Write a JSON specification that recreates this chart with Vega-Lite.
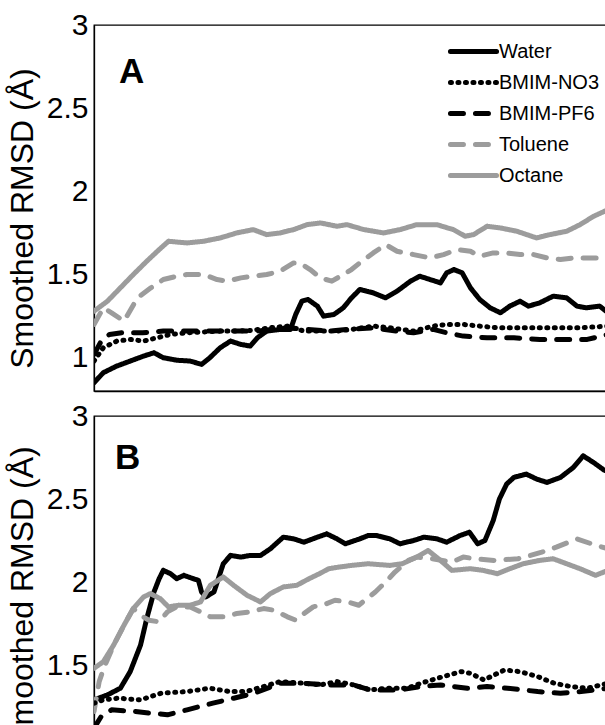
{
  "$schema": "https://vega.github.io/schema/vega-lite/v6.json",
  "background": "white",
  "padding": {"left": 5, "top": 9, "right": 0, "bottom": 0},
  "spacing": 7,
  "config": {
    "view": {"stroke": "black", "strokeWidth": 1.3},
    "font": "Liberation Sans"
  },
  "datasets": {
    "d": [
      {"p":"A","s":"Water","x":0.3,"y":0.85},{"p":"A","s":"Water","x":1.2,"y":0.91},{"p":"A","s":"Water","x":2.5,"y":0.95},{"p":"A","s":"Water","x":3.8,"y":0.98},{"p":"A","s":"Water","x":5.1,"y":1.01},{"p":"A","s":"Water","x":6.1,"y":1.03},{"p":"A","s":"Water","x":7.0,"y":1.0},{"p":"A","s":"Water","x":8.3,"y":0.985},{"p":"A","s":"Water","x":9.6,"y":0.98},{"p":"A","s":"Water","x":10.7,"y":0.96},{"p":"A","s":"Water","x":11.5,"y":1.0},{"p":"A","s":"Water","x":12.5,"y":1.06},{"p":"A","s":"Water","x":13.5,"y":1.1},{"p":"A","s":"Water","x":14.5,"y":1.08},{"p":"A","s":"Water","x":15.4,"y":1.07},{"p":"A","s":"Water","x":16.1,"y":1.12},{"p":"A","s":"Water","x":17.0,"y":1.16},{"p":"A","s":"Water","x":18.3,"y":1.17},{"p":"A","s":"Water","x":19.3,"y":1.17},{"p":"A","s":"Water","x":19.8,"y":1.26},{"p":"A","s":"Water","x":20.4,"y":1.34},{"p":"A","s":"Water","x":21.0,"y":1.35},{"p":"A","s":"Water","x":21.9,"y":1.31},{"p":"A","s":"Water","x":22.5,"y":1.25},{"p":"A","s":"Water","x":23.5,"y":1.26},{"p":"A","s":"Water","x":24.4,"y":1.30},{"p":"A","s":"Water","x":25.2,"y":1.36},{"p":"A","s":"Water","x":26.0,"y":1.41},{"p":"A","s":"Water","x":27.3,"y":1.39},{"p":"A","s":"Water","x":28.5,"y":1.36},{"p":"A","s":"Water","x":29.6,"y":1.40},{"p":"A","s":"Water","x":30.9,"y":1.46},{"p":"A","s":"Water","x":31.8,"y":1.49},{"p":"A","s":"Water","x":32.8,"y":1.47},{"p":"A","s":"Water","x":33.8,"y":1.45},{"p":"A","s":"Water","x":34.4,"y":1.51},{"p":"A","s":"Water","x":35.1,"y":1.53},{"p":"A","s":"Water","x":35.9,"y":1.51},{"p":"A","s":"Water","x":36.7,"y":1.42},{"p":"A","s":"Water","x":37.6,"y":1.35},{"p":"A","s":"Water","x":38.6,"y":1.30},{"p":"A","s":"Water","x":39.6,"y":1.27},{"p":"A","s":"Water","x":40.5,"y":1.31},{"p":"A","s":"Water","x":41.5,"y":1.34},{"p":"A","s":"Water","x":42.3,"y":1.31},{"p":"A","s":"Water","x":43.4,"y":1.33},{"p":"A","s":"Water","x":44.7,"y":1.37},{"p":"A","s":"Water","x":46.0,"y":1.36},{"p":"A","s":"Water","x":47.0,"y":1.31},{"p":"A","s":"Water","x":47.9,"y":1.30},{"p":"A","s":"Water","x":49.2,"y":1.31},{"p":"A","s":"Water","x":50.0,"y":1.27},

      {"p":"A","s":"Octane","x":0.3,"y":1.28},{"p":"A","s":"Octane","x":1.6,"y":1.34},{"p":"A","s":"Octane","x":2.85,"y":1.42},{"p":"A","s":"Octane","x":4.1,"y":1.50},{"p":"A","s":"Octane","x":5.4,"y":1.58},{"p":"A","s":"Octane","x":6.6,"y":1.65},{"p":"A","s":"Octane","x":7.5,"y":1.70},{"p":"A","s":"Octane","x":9.3,"y":1.69},{"p":"A","s":"Octane","x":10.9,"y":1.70},{"p":"A","s":"Octane","x":12.5,"y":1.72},{"p":"A","s":"Octane","x":14.1,"y":1.75},{"p":"A","s":"Octane","x":15.7,"y":1.77},{"p":"A","s":"Octane","x":17.0,"y":1.74},{"p":"A","s":"Octane","x":18.3,"y":1.75},{"p":"A","s":"Octane","x":19.6,"y":1.77},{"p":"A","s":"Octane","x":20.9,"y":1.80},{"p":"A","s":"Octane","x":22.2,"y":1.81},{"p":"A","s":"Octane","x":23.8,"y":1.79},{"p":"A","s":"Octane","x":24.75,"y":1.80},{"p":"A","s":"Octane","x":26.4,"y":1.77},{"p":"A","s":"Octane","x":28.3,"y":1.75},{"p":"A","s":"Octane","x":29.9,"y":1.77},{"p":"A","s":"Octane","x":31.5,"y":1.80},{"p":"A","s":"Octane","x":33.45,"y":1.80},{"p":"A","s":"Octane","x":35.05,"y":1.77},{"p":"A","s":"Octane","x":36.2,"y":1.73},{"p":"A","s":"Octane","x":37.0,"y":1.74},{"p":"A","s":"Octane","x":38.3,"y":1.79},{"p":"A","s":"Octane","x":39.6,"y":1.78},{"p":"A","s":"Octane","x":41.2,"y":1.76},{"p":"A","s":"Octane","x":43.1,"y":1.72},{"p":"A","s":"Octane","x":44.4,"y":1.74},{"p":"A","s":"Octane","x":46.0,"y":1.76},{"p":"A","s":"Octane","x":47.3,"y":1.80},{"p":"A","s":"Octane","x":48.6,"y":1.85},{"p":"A","s":"Octane","x":50.0,"y":1.89},

      {"p":"A","s":"Toluene","x":0.3,"y":1.20},{"p":"A","s":"Toluene","x":1.2,"y":1.30},{"p":"A","s":"Toluene","x":2.0,"y":1.27},{"p":"A","s":"Toluene","x":3.2,"y":1.22},{"p":"A","s":"Toluene","x":4.5,"y":1.36},{"p":"A","s":"Toluene","x":5.8,"y":1.42},{"p":"A","s":"Toluene","x":7.0,"y":1.47},{"p":"A","s":"Toluene","x":8.3,"y":1.49},{"p":"A","s":"Toluene","x":9.3,"y":1.50},{"p":"A","s":"Toluene","x":10.9,"y":1.50},{"p":"A","s":"Toluene","x":12.2,"y":1.47},{"p":"A","s":"Toluene","x":13.2,"y":1.46},{"p":"A","s":"Toluene","x":14.5,"y":1.48},{"p":"A","s":"Toluene","x":15.7,"y":1.49},{"p":"A","s":"Toluene","x":17.0,"y":1.50},{"p":"A","s":"Toluene","x":18.3,"y":1.52},{"p":"A","s":"Toluene","x":19.6,"y":1.57},{"p":"A","s":"Toluene","x":20.2,"y":1.57},{"p":"A","s":"Toluene","x":21.2,"y":1.53},{"p":"A","s":"Toluene","x":22.2,"y":1.48},{"p":"A","s":"Toluene","x":23.3,"y":1.46},{"p":"A","s":"Toluene","x":24.4,"y":1.50},{"p":"A","s":"Toluene","x":25.2,"y":1.53},{"p":"A","s":"Toluene","x":26.0,"y":1.57},{"p":"A","s":"Toluene","x":27.3,"y":1.63},{"p":"A","s":"Toluene","x":28.5,"y":1.68},{"p":"A","s":"Toluene","x":29.6,"y":1.64},{"p":"A","s":"Toluene","x":31.2,"y":1.62},{"p":"A","s":"Toluene","x":32.8,"y":1.60},{"p":"A","s":"Toluene","x":34.1,"y":1.62},{"p":"A","s":"Toluene","x":35.4,"y":1.65},{"p":"A","s":"Toluene","x":36.7,"y":1.64},{"p":"A","s":"Toluene","x":37.6,"y":1.61},{"p":"A","s":"Toluene","x":38.9,"y":1.63},{"p":"A","s":"Toluene","x":40.2,"y":1.63},{"p":"A","s":"Toluene","x":41.5,"y":1.62},{"p":"A","s":"Toluene","x":42.8,"y":1.62},{"p":"A","s":"Toluene","x":44.1,"y":1.60},{"p":"A","s":"Toluene","x":45.4,"y":1.59},{"p":"A","s":"Toluene","x":46.7,"y":1.60},{"p":"A","s":"Toluene","x":48.0,"y":1.60},{"p":"A","s":"Toluene","x":50.0,"y":1.60},

      {"p":"A","s":"BMIM-NO3","x":0.3,"y":0.98},{"p":"A","s":"BMIM-NO3","x":1.2,"y":1.06},{"p":"A","s":"BMIM-NO3","x":2.5,"y":1.10},{"p":"A","s":"BMIM-NO3","x":3.8,"y":1.11},{"p":"A","s":"BMIM-NO3","x":5.1,"y":1.10},{"p":"A","s":"BMIM-NO3","x":6.4,"y":1.12},{"p":"A","s":"BMIM-NO3","x":7.7,"y":1.14},{"p":"A","s":"BMIM-NO3","x":9.3,"y":1.15},{"p":"A","s":"BMIM-NO3","x":10.9,"y":1.155},{"p":"A","s":"BMIM-NO3","x":12.5,"y":1.16},{"p":"A","s":"BMIM-NO3","x":14.1,"y":1.16},{"p":"A","s":"BMIM-NO3","x":15.7,"y":1.165},{"p":"A","s":"BMIM-NO3","x":17.3,"y":1.18},{"p":"A","s":"BMIM-NO3","x":19.0,"y":1.19},{"p":"A","s":"BMIM-NO3","x":20.6,"y":1.16},{"p":"A","s":"BMIM-NO3","x":22.2,"y":1.16},{"p":"A","s":"BMIM-NO3","x":23.8,"y":1.16},{"p":"A","s":"BMIM-NO3","x":25.2,"y":1.17},{"p":"A","s":"BMIM-NO3","x":27.3,"y":1.19},{"p":"A","s":"BMIM-NO3","x":28.9,"y":1.18},{"p":"A","s":"BMIM-NO3","x":31.2,"y":1.16},{"p":"A","s":"BMIM-NO3","x":33.1,"y":1.19},{"p":"A","s":"BMIM-NO3","x":34.4,"y":1.20},{"p":"A","s":"BMIM-NO3","x":36.0,"y":1.20},{"p":"A","s":"BMIM-NO3","x":37.6,"y":1.19},{"p":"A","s":"BMIM-NO3","x":39.3,"y":1.18},{"p":"A","s":"BMIM-NO3","x":40.9,"y":1.18},{"p":"A","s":"BMIM-NO3","x":44.1,"y":1.18},{"p":"A","s":"BMIM-NO3","x":47.3,"y":1.18},{"p":"A","s":"BMIM-NO3","x":50.0,"y":1.19},

      {"p":"A","s":"BMIM-PF6","x":0.3,"y":1.02},{"p":"A","s":"BMIM-PF6","x":1.0,"y":1.10},{"p":"A","s":"BMIM-PF6","x":1.8,"y":1.14},{"p":"A","s":"BMIM-PF6","x":3.0,"y":1.15},{"p":"A","s":"BMIM-PF6","x":5.0,"y":1.15},{"p":"A","s":"BMIM-PF6","x":7.0,"y":1.16},{"p":"A","s":"BMIM-PF6","x":10.0,"y":1.16},{"p":"A","s":"BMIM-PF6","x":13.0,"y":1.16},{"p":"A","s":"BMIM-PF6","x":16.0,"y":1.16},{"p":"A","s":"BMIM-PF6","x":19.0,"y":1.18},{"p":"A","s":"BMIM-PF6","x":21.0,"y":1.17},{"p":"A","s":"BMIM-PF6","x":23.0,"y":1.16},{"p":"A","s":"BMIM-PF6","x":24.75,"y":1.17},{"p":"A","s":"BMIM-PF6","x":27.3,"y":1.18},{"p":"A","s":"BMIM-PF6","x":29.6,"y":1.16},{"p":"A","s":"BMIM-PF6","x":31.2,"y":1.15},{"p":"A","s":"BMIM-PF6","x":33.1,"y":1.17},{"p":"A","s":"BMIM-PF6","x":34.4,"y":1.15},{"p":"A","s":"BMIM-PF6","x":36.0,"y":1.13},{"p":"A","s":"BMIM-PF6","x":38.3,"y":1.12},{"p":"A","s":"BMIM-PF6","x":40.9,"y":1.12},{"p":"A","s":"BMIM-PF6","x":43.4,"y":1.11},{"p":"A","s":"BMIM-PF6","x":45.7,"y":1.11},{"p":"A","s":"BMIM-PF6","x":48.0,"y":1.11},{"p":"A","s":"BMIM-PF6","x":50.0,"y":1.14},

      {"p":"B","s":"Water","x":0.3,"y":1.29},{"p":"B","s":"Water","x":1.6,"y":1.32},{"p":"B","s":"Water","x":2.85,"y":1.36},{"p":"B","s":"Water","x":3.8,"y":1.46},{"p":"B","s":"Water","x":4.8,"y":1.62},{"p":"B","s":"Water","x":5.4,"y":1.78},{"p":"B","s":"Water","x":6.1,"y":1.94},{"p":"B","s":"Water","x":6.6,"y":2.02},{"p":"B","s":"Water","x":7.0,"y":2.07},{"p":"B","s":"Water","x":7.7,"y":2.05},{"p":"B","s":"Water","x":8.3,"y":2.02},{"p":"B","s":"Water","x":9.0,"y":2.04},{"p":"B","s":"Water","x":9.9,"y":2.02},{"p":"B","s":"Water","x":10.4,"y":2.01},{"p":"B","s":"Water","x":10.7,"y":1.94},{"p":"B","s":"Water","x":11.1,"y":1.91},{"p":"B","s":"Water","x":11.9,"y":1.94},{"p":"B","s":"Water","x":12.8,"y":2.11},{"p":"B","s":"Water","x":13.5,"y":2.16},{"p":"B","s":"Water","x":14.5,"y":2.15},{"p":"B","s":"Water","x":15.4,"y":2.16},{"p":"B","s":"Water","x":16.4,"y":2.16},{"p":"B","s":"Water","x":17.35,"y":2.20},{"p":"B","s":"Water","x":18.6,"y":2.27},{"p":"B","s":"Water","x":19.6,"y":2.26},{"p":"B","s":"Water","x":20.6,"y":2.24},{"p":"B","s":"Water","x":21.9,"y":2.27},{"p":"B","s":"Water","x":22.8,"y":2.29},{"p":"B","s":"Water","x":23.8,"y":2.26},{"p":"B","s":"Water","x":24.6,"y":2.23},{"p":"B","s":"Water","x":26.0,"y":2.26},{"p":"B","s":"Water","x":26.8,"y":2.28},{"p":"B","s":"Water","x":27.6,"y":2.28},{"p":"B","s":"Water","x":28.9,"y":2.26},{"p":"B","s":"Water","x":29.9,"y":2.23},{"p":"B","s":"Water","x":31.2,"y":2.25},{"p":"B","s":"Water","x":32.2,"y":2.27},{"p":"B","s":"Water","x":33.45,"y":2.26},{"p":"B","s":"Water","x":34.4,"y":2.24},{"p":"B","s":"Water","x":35.7,"y":2.28},{"p":"B","s":"Water","x":36.6,"y":2.30},{"p":"B","s":"Water","x":37.4,"y":2.23},{"p":"B","s":"Water","x":38.1,"y":2.25},{"p":"B","s":"Water","x":38.9,"y":2.37},{"p":"B","s":"Water","x":39.5,"y":2.50},{"p":"B","s":"Water","x":40.2,"y":2.59},{"p":"B","s":"Water","x":40.9,"y":2.63},{"p":"B","s":"Water","x":42.1,"y":2.65},{"p":"B","s":"Water","x":43.1,"y":2.62},{"p":"B","s":"Water","x":44.1,"y":2.60},{"p":"B","s":"Water","x":45.4,"y":2.63},{"p":"B","s":"Water","x":46.65,"y":2.69},{"p":"B","s":"Water","x":47.6,"y":2.76},{"p":"B","s":"Water","x":48.6,"y":2.72},{"p":"B","s":"Water","x":49.6,"y":2.675},{"p":"B","s":"Water","x":50.0,"y":2.665},

      {"p":"B","s":"Octane","x":0.3,"y":1.48},{"p":"B","s":"Octane","x":1.2,"y":1.52},{"p":"B","s":"Octane","x":2.2,"y":1.62},{"p":"B","s":"Octane","x":3.2,"y":1.74},{"p":"B","s":"Octane","x":4.1,"y":1.84},{"p":"B","s":"Octane","x":5.1,"y":1.91},{"p":"B","s":"Octane","x":5.75,"y":1.93},{"p":"B","s":"Octane","x":6.7,"y":1.90},{"p":"B","s":"Octane","x":7.5,"y":1.85},{"p":"B","s":"Octane","x":8.5,"y":1.86},{"p":"B","s":"Octane","x":9.6,"y":1.86},{"p":"B","s":"Octane","x":10.6,"y":1.88},{"p":"B","s":"Octane","x":11.55,"y":1.98},{"p":"B","s":"Octane","x":12.8,"y":2.03},{"p":"B","s":"Octane","x":13.8,"y":1.98},{"p":"B","s":"Octane","x":15.1,"y":1.92},{"p":"B","s":"Octane","x":16.4,"y":1.88},{"p":"B","s":"Octane","x":17.35,"y":1.93},{"p":"B","s":"Octane","x":18.6,"y":1.97},{"p":"B","s":"Octane","x":19.9,"y":1.98},{"p":"B","s":"Octane","x":21.1,"y":2.02},{"p":"B","s":"Octane","x":22.1,"y":2.05},{"p":"B","s":"Octane","x":23.0,"y":2.08},{"p":"B","s":"Octane","x":24.0,"y":2.09},{"p":"B","s":"Octane","x":25.2,"y":2.10},{"p":"B","s":"Octane","x":26.8,"y":2.11},{"p":"B","s":"Octane","x":28.9,"y":2.10},{"p":"B","s":"Octane","x":30.1,"y":2.11},{"p":"B","s":"Octane","x":31.5,"y":2.15},{"p":"B","s":"Octane","x":32.6,"y":2.19},{"p":"B","s":"Octane","x":33.8,"y":2.13},{"p":"B","s":"Octane","x":34.9,"y":2.07},{"p":"B","s":"Octane","x":36.7,"y":2.08},{"p":"B","s":"Octane","x":37.9,"y":2.07},{"p":"B","s":"Octane","x":39.3,"y":2.05},{"p":"B","s":"Octane","x":40.5,"y":2.08},{"p":"B","s":"Octane","x":41.8,"y":2.11},{"p":"B","s":"Octane","x":43.4,"y":2.13},{"p":"B","s":"Octane","x":44.7,"y":2.14},{"p":"B","s":"Octane","x":46.0,"y":2.11},{"p":"B","s":"Octane","x":47.3,"y":2.08},{"p":"B","s":"Octane","x":48.8,"y":2.04},{"p":"B","s":"Octane","x":50.0,"y":2.07},

      {"p":"B","s":"Toluene","x":0.3,"y":1.22},{"p":"B","s":"Toluene","x":0.8,"y":1.40},{"p":"B","s":"Toluene","x":1.24,"y":1.48},{"p":"B","s":"Toluene","x":2.2,"y":1.62},{"p":"B","s":"Toluene","x":3.2,"y":1.74},{"p":"B","s":"Toluene","x":4.1,"y":1.84},{"p":"B","s":"Toluene","x":4.8,"y":1.80},{"p":"B","s":"Toluene","x":5.6,"y":1.77},{"p":"B","s":"Toluene","x":6.6,"y":1.76},{"p":"B","s":"Toluene","x":7.4,"y":1.82},{"p":"B","s":"Toluene","x":8.3,"y":1.85},{"p":"B","s":"Toluene","x":9.6,"y":1.85},{"p":"B","s":"Toluene","x":10.6,"y":1.82},{"p":"B","s":"Toluene","x":11.55,"y":1.79},{"p":"B","s":"Toluene","x":12.8,"y":1.79},{"p":"B","s":"Toluene","x":14.1,"y":1.81},{"p":"B","s":"Toluene","x":15.4,"y":1.82},{"p":"B","s":"Toluene","x":16.7,"y":1.84},{"p":"B","s":"Toluene","x":17.7,"y":1.83},{"p":"B","s":"Toluene","x":19.0,"y":1.79},{"p":"B","s":"Toluene","x":19.8,"y":1.77},{"p":"B","s":"Toluene","x":20.6,"y":1.81},{"p":"B","s":"Toluene","x":21.5,"y":1.85},{"p":"B","s":"Toluene","x":22.8,"y":1.87},{"p":"B","s":"Toluene","x":23.6,"y":1.89},{"p":"B","s":"Toluene","x":24.8,"y":1.88},{"p":"B","s":"Toluene","x":25.9,"y":1.86},{"p":"B","s":"Toluene","x":27.5,"y":1.94},{"p":"B","s":"Toluene","x":28.5,"y":2.00},{"p":"B","s":"Toluene","x":29.4,"y":2.06},{"p":"B","s":"Toluene","x":30.7,"y":2.13},{"p":"B","s":"Toluene","x":31.5,"y":2.15},{"p":"B","s":"Toluene","x":33.0,"y":2.14},{"p":"B","s":"Toluene","x":34.9,"y":2.12},{"p":"B","s":"Toluene","x":36.0,"y":2.15},{"p":"B","s":"Toluene","x":37.2,"y":2.14},{"p":"B","s":"Toluene","x":39.0,"y":2.13},{"p":"B","s":"Toluene","x":41.3,"y":2.14},{"p":"B","s":"Toluene","x":42.5,"y":2.16},{"p":"B","s":"Toluene","x":43.6,"y":2.18},{"p":"B","s":"Toluene","x":45.0,"y":2.21},{"p":"B","s":"Toluene","x":46.2,"y":2.24},{"p":"B","s":"Toluene","x":47.0,"y":2.26},{"p":"B","s":"Toluene","x":48.4,"y":2.23},{"p":"B","s":"Toluene","x":50.0,"y":2.20},

      {"p":"B","s":"BMIM-NO3","x":0.3,"y":1.27},{"p":"B","s":"BMIM-NO3","x":1.2,"y":1.29},{"p":"B","s":"BMIM-NO3","x":2.6,"y":1.30},{"p":"B","s":"BMIM-NO3","x":4.8,"y":1.29},{"p":"B","s":"BMIM-NO3","x":6.8,"y":1.33},{"p":"B","s":"BMIM-NO3","x":9.3,"y":1.34},{"p":"B","s":"BMIM-NO3","x":11.5,"y":1.36},{"p":"B","s":"BMIM-NO3","x":13.4,"y":1.34},{"p":"B","s":"BMIM-NO3","x":15.0,"y":1.34},{"p":"B","s":"BMIM-NO3","x":16.7,"y":1.37},{"p":"B","s":"BMIM-NO3","x":18.3,"y":1.40},{"p":"B","s":"BMIM-NO3","x":20.6,"y":1.39},{"p":"B","s":"BMIM-NO3","x":22.2,"y":1.38},{"p":"B","s":"BMIM-NO3","x":23.8,"y":1.40},{"p":"B","s":"BMIM-NO3","x":25.4,"y":1.38},{"p":"B","s":"BMIM-NO3","x":27.0,"y":1.35},{"p":"B","s":"BMIM-NO3","x":28.6,"y":1.36},{"p":"B","s":"BMIM-NO3","x":30.6,"y":1.36},{"p":"B","s":"BMIM-NO3","x":31.9,"y":1.39},{"p":"B","s":"BMIM-NO3","x":33.5,"y":1.42},{"p":"B","s":"BMIM-NO3","x":35.8,"y":1.46},{"p":"B","s":"BMIM-NO3","x":36.7,"y":1.45},{"p":"B","s":"BMIM-NO3","x":38.0,"y":1.41},{"p":"B","s":"BMIM-NO3","x":40.0,"y":1.47},{"p":"B","s":"BMIM-NO3","x":41.5,"y":1.46},{"p":"B","s":"BMIM-NO3","x":43.2,"y":1.43},{"p":"B","s":"BMIM-NO3","x":44.8,"y":1.39},{"p":"B","s":"BMIM-NO3","x":46.4,"y":1.37},{"p":"B","s":"BMIM-NO3","x":48.0,"y":1.36},{"p":"B","s":"BMIM-NO3","x":50.0,"y":1.39},

      {"p":"B","s":"BMIM-PF6","x":0.3,"y":1.12},{"p":"B","s":"BMIM-PF6","x":1.0,"y":1.19},{"p":"B","s":"BMIM-PF6","x":2.0,"y":1.23},{"p":"B","s":"BMIM-PF6","x":4.2,"y":1.22},{"p":"B","s":"BMIM-PF6","x":7.4,"y":1.20},{"p":"B","s":"BMIM-PF6","x":9.3,"y":1.23},{"p":"B","s":"BMIM-PF6","x":11.8,"y":1.27},{"p":"B","s":"BMIM-PF6","x":13.8,"y":1.30},{"p":"B","s":"BMIM-PF6","x":15.8,"y":1.33},{"p":"B","s":"BMIM-PF6","x":18.3,"y":1.39},{"p":"B","s":"BMIM-PF6","x":20.6,"y":1.39},{"p":"B","s":"BMIM-PF6","x":22.9,"y":1.38},{"p":"B","s":"BMIM-PF6","x":25.4,"y":1.38},{"p":"B","s":"BMIM-PF6","x":27.0,"y":1.35},{"p":"B","s":"BMIM-PF6","x":29.9,"y":1.35},{"p":"B","s":"BMIM-PF6","x":31.9,"y":1.37},{"p":"B","s":"BMIM-PF6","x":33.8,"y":1.38},{"p":"B","s":"BMIM-PF6","x":36.4,"y":1.36},{"p":"B","s":"BMIM-PF6","x":38.3,"y":1.37},{"p":"B","s":"BMIM-PF6","x":40.3,"y":1.36},{"p":"B","s":"BMIM-PF6","x":43.2,"y":1.34},{"p":"B","s":"BMIM-PF6","x":45.4,"y":1.33},{"p":"B","s":"BMIM-PF6","x":47.4,"y":1.34},{"p":"B","s":"BMIM-PF6","x":50.0,"y":1.36}
    ]
  },
  "vconcat": [
    {
      "width": 514,
      "height": 366,
      "title": {"text": "A", "anchor": "start", "frame": "group", "orient": "top", "offset": -108, "dx": 25, "font": "Liberation Sans", "fontSize": 35, "fontWeight": "bold", "baseline": "alphabetic", "color": "black"},
      "data": {"name": "d"},
      "transform": [{"filter": "datum.p === 'A'"}],
      "mark": {"type": "line", "strokeWidth": 5, "strokeCap": "round", "strokeJoin": "round", "clip": true},
      "encoding": {
        "x": {"field": "x", "type": "quantitative",
          "scale": {"domain": [0.3, 50], "nice": false, "zero": false},
          "axis": {"title": null, "labels": false, "values": [2,4,6,8,10,12,14,16,18,20,22,24,26,28,30,32,34,36,38,40,42,44,46,48],
            "tickSize": 0, "tickColor": "black", "tickWidth": 1.2, "domainColor": "black", "domainWidth": 1.3, "grid": false,
            "encode": {"ticks": {"update": {"y2": {"signal": "datum.value % 10 === 0 ? -7 : -4"}}}}}},
        "y": {"field": "y", "type": "quantitative",
          "scale": {"domain": [0.8, 3], "nice": false, "zero": false},
          "axis": {"title": "Smoothed RMSD (Å)", "titleFont": "Liberation Sans", "titleFontSize": 32, "titleFontWeight": "normal", "titleColor": "black", "titlePadding": 7, "titleY": 193,
            "values": [0.9,1,1.1,1.2,1.3,1.4,1.5,1.6,1.7,1.8,1.9,2,2.1,2.2,2.3,2.4,2.5,2.6,2.7,2.8,2.9,3],
            "labelExpr": "abs(datum.value*2 - round(datum.value*2)) < 0.001 ? format(datum.value, '~g') : ''",
            "labelFont": "Liberation Sans", "labelFontSize": 30, "labelColor": "black", "labelPadding": 6, "labelOverlap": false, "labelFlush": false,
            "tickSize": 0, "tickColor": "black", "tickWidth": 1.2, "domainColor": "black", "domainWidth": 1.3, "grid": false,
            "encode": {"ticks": {"update": {"x2": {"signal": "abs(datum.value*2 - round(datum.value*2)) < 0.001 ? 7 : 4"}}}}}},
        "color": {"field": "s", "type": "nominal",
          "scale": {"domain": ["Water", "BMIM-NO3", "BMIM-PF6", "Toluene", "Octane"], "range": ["#000000", "#000000", "#000000", "#9c9c9c", "#9c9c9c"]},
          "legend": {"orient": "none", "legendX": 359, "legendY": 6, "title": null, "symbolType": "M-1.28,0H1.28", "symbolSize": 1296, "symbolStrokeWidth": 5,
            "labelFont": "Liberation Sans", "labelFontSize": 20, "labelColor": "black", "labelOffset": 5, "rowPadding": 0, "labelLimit": 0, "padding": 0,
            "encode": {"symbols": {"update": {"strokeCap": {"value": "round"}}}}}},
        "strokeDash": {"field": "s", "type": "nominal",
          "scale": {"domain": ["Water", "BMIM-NO3", "BMIM-PF6", "Toluene", "Octane"], "range": [[1, 0], [1, 6.5], [13, 12], [13, 12], [1, 0]]},
          "legend": {"orient": "none", "legendX": 359, "legendY": 6, "title": null, "symbolType": "M-1.28,0H1.28", "symbolSize": 1296, "symbolStrokeWidth": 5,
            "labelFont": "Liberation Sans", "labelFontSize": 20, "labelColor": "black", "labelOffset": 5, "rowPadding": 0, "labelLimit": 0, "padding": 0,
            "encode": {"symbols": {"update": {"strokeCap": {"value": "round"}}}}}}
      }
    },
    {
      "width": 514,
      "height": 332,
      "title": {"text": "B", "anchor": "start", "frame": "group", "orient": "top", "offset": -103, "dx": 21, "font": "Liberation Sans", "fontSize": 35, "fontWeight": "bold", "baseline": "alphabetic", "color": "black"},
      "data": {"name": "d"},
      "transform": [{"filter": "datum.p === 'B'"}],
      "mark": {"type": "line", "strokeWidth": 5, "strokeCap": "round", "strokeJoin": "round", "clip": true},
      "encoding": {
        "x": {"field": "x", "type": "quantitative",
          "scale": {"domain": [0.3, 50], "nice": false, "zero": false},
          "axis": {"title": null, "labels": false, "values": [2,4,6,8,10,12,14,16,18,20,22,24,26,28,30,32,34,36,38,40,42,44,46,48],
            "tickSize": 0, "tickColor": "black", "tickWidth": 1.2, "domainColor": "black", "domainWidth": 1.3, "grid": false,
            "encode": {"ticks": {"update": {"y2": {"signal": "datum.value % 10 === 0 ? -7 : -4"}}}}}},
        "y": {"field": "y", "type": "quantitative",
          "scale": {"domain": [1, 3], "nice": false, "zero": false},
          "axis": {"title": "Smoothed RMSD (Å)", "titleFont": "Liberation Sans", "titleFontSize": 32, "titleFontWeight": "normal", "titleColor": "black", "titlePadding": 7, "titleY": 180,
            "values": [1.1,1.2,1.3,1.4,1.5,1.6,1.7,1.8,1.9,2,2.1,2.2,2.3,2.4,2.5,2.6,2.7,2.8,2.9,3],
            "labelExpr": "abs(datum.value*2 - round(datum.value*2)) < 0.001 ? format(datum.value, '~g') : ''",
            "labelFont": "Liberation Sans", "labelFontSize": 30, "labelColor": "black", "labelPadding": 6, "labelOverlap": false, "labelFlush": false,
            "tickSize": 0, "tickColor": "black", "tickWidth": 1.2, "domainColor": "black", "domainWidth": 1.3, "grid": false,
            "encode": {"ticks": {"update": {"x2": {"signal": "abs(datum.value*2 - round(datum.value*2)) < 0.001 ? 7 : 4"}}}}}},
        "color": {"field": "s", "type": "nominal",
          "scale": {"domain": ["Water", "BMIM-NO3", "BMIM-PF6", "Toluene", "Octane"], "range": ["#000000", "#000000", "#000000", "#9c9c9c", "#9c9c9c"]},
          "legend": null},
        "strokeDash": {"field": "s", "type": "nominal",
          "scale": {"domain": ["Water", "BMIM-NO3", "BMIM-PF6", "Toluene", "Octane"], "range": [[1, 0], [1, 6.5], [13, 12], [13, 12], [1, 0]]},
          "legend": null}
      }
    }
  ]
}
